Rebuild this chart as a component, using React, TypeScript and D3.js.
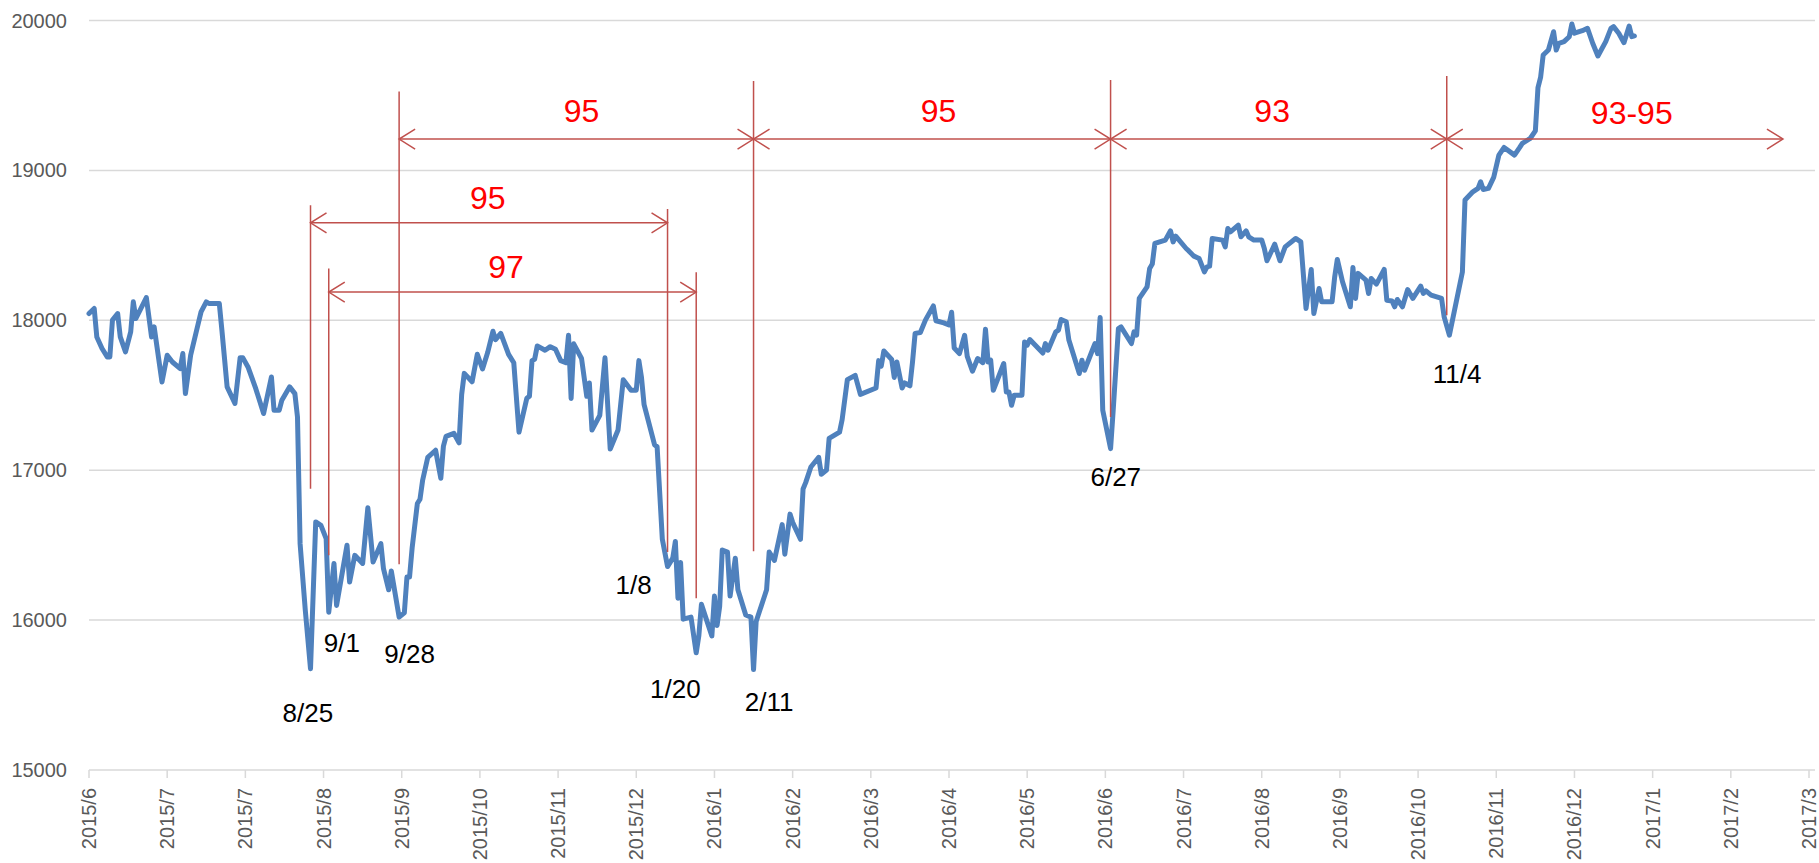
import React from 'react'
import * as d3 from 'd3'

// daily closes
const dates = [
  '2015-06-01','2015-06-03','2015-06-04','2015-06-06','2015-06-08','2015-06-09','2015-06-10','2015-06-12','2015-06-13','2015-06-15',
  '2015-06-17','2015-06-18','2015-06-19','2015-06-23','2015-06-25','2015-06-26','2015-06-29','2015-07-01','2015-07-03','2015-07-06',
  '2015-07-07','2015-07-08','2015-07-10','2015-07-12','2015-07-14','2015-07-16','2015-07-17','2015-07-21','2015-07-22','2015-07-23',
  '2015-07-24','2015-07-27','2015-07-29','2015-07-30','2015-08-01','2015-08-04','2015-08-07','2015-08-10','2015-08-11','2015-08-13',
  '2015-08-14','2015-08-17','2015-08-19','2015-08-20','2015-08-21','2015-08-23','2015-08-25','2015-08-27','2015-08-29','2015-08-31',
  '2015-09-01','2015-09-03','2015-09-04','2015-09-08','2015-09-09','2015-09-11','2015-09-14','2015-09-16','2015-09-18','2015-09-21',
  '2015-09-22','2015-09-24','2015-09-25','2015-09-28','2015-09-30','2015-10-01','2015-10-02','2015-10-03','2015-10-05','2015-10-06',
  '2015-10-07','2015-10-09','2015-10-12','2015-10-14','2015-10-15','2015-10-16','2015-10-19','2015-10-21','2015-10-22','2015-10-23',
  '2015-10-26','2015-10-28','2015-10-30','2015-11-01','2015-11-03','2015-11-04','2015-11-06','2015-11-09','2015-11-11','2015-11-13',
  '2015-11-16','2015-11-17','2015-11-18','2015-11-19','2015-11-20','2015-11-23','2015-11-25','2015-11-27','2015-11-29','2015-12-01',
  '2015-12-02','2015-12-03','2015-12-04','2015-12-07','2015-12-09','2015-12-10','2015-12-11','2015-12-14','2015-12-16','2015-12-18',
  '2015-12-21','2015-12-23','2015-12-26','2015-12-28','2015-12-29','2015-12-30','2015-12-31','2016-01-04','2016-01-05','2016-01-06',
  '2016-01-07','2016-01-09','2016-01-11','2016-01-12','2016-01-13','2016-01-14','2016-01-15','2016-01-18','2016-01-20','2016-01-21',
  '2016-01-22','2016-01-26','2016-01-27','2016-01-28','2016-01-29','2016-01-30','2016-02-01','2016-02-02','2016-02-04','2016-02-05',
  '2016-02-08','2016-02-10','2016-02-11','2016-02-12','2016-02-16','2016-02-17','2016-02-19','2016-02-22','2016-02-23','2016-02-25',
  '2016-02-26','2016-02-29','2016-03-01','2016-03-02','2016-03-04','2016-03-07','2016-03-08','2016-03-10','2016-03-11','2016-03-15',
  '2016-03-16','2016-03-18','2016-03-21','2016-03-23','2016-03-29','2016-03-30','2016-03-31','2016-04-01','2016-04-04','2016-04-05',
  '2016-04-06','2016-04-08','2016-04-09','2016-04-11','2016-04-12','2016-04-13','2016-04-15','2016-04-17','2016-04-20','2016-04-21',
  '2016-04-24','2016-04-26','2016-04-27','2016-04-28','2016-04-30','2016-05-02','2016-05-03','2016-05-05','2016-05-07','2016-05-09',
  '2016-05-10','2016-05-11','2016-05-12','2016-05-13','2016-05-17','2016-05-18','2016-05-19','2016-05-20','2016-05-21','2016-05-24',
  '2016-05-25','2016-05-26','2016-05-27','2016-06-01','2016-06-02','2016-06-03','2016-06-06','2016-06-07','2016-06-08','2016-06-10',
  '2016-06-11','2016-06-15','2016-06-16','2016-06-17','2016-06-20','2016-06-21','2016-06-22','2016-06-23','2016-06-24','2016-06-27',
  '2016-06-28','2016-06-30','2016-07-01','2016-07-05','2016-07-06','2016-07-07','2016-07-08','2016-07-11','2016-07-12','2016-07-13',
  '2016-07-14','2016-07-18','2016-07-20','2016-07-21','2016-07-22','2016-07-26','2016-07-27','2016-07-29','2016-07-31','2016-08-02',
  '2016-08-03','2016-08-04','2016-08-05','2016-08-09','2016-08-10','2016-08-11','2016-08-12','2016-08-15','2016-08-16','2016-08-18',
  '2016-08-19','2016-08-21','2016-08-24','2016-08-25','2016-08-26','2016-08-29','2016-08-31','2016-09-02','2016-09-06','2016-09-08',
  '2016-09-10','2016-09-12','2016-09-13','2016-09-15','2016-09-16','2016-09-20','2016-09-21','2016-09-22','2016-09-24','2016-09-27',
  '2016-09-28','2016-09-29','2016-09-30','2016-10-03','2016-10-04','2016-10-05','2016-10-07','2016-10-10','2016-10-11','2016-10-13',
  '2016-10-14','2016-10-15','2016-10-17','2016-10-19','2016-10-21','2016-10-24','2016-10-25','2016-10-26','2016-10-28','2016-11-01',
  '2016-11-02','2016-11-04','2016-11-09','2016-11-10','2016-11-13','2016-11-15','2016-11-16','2016-11-17','2016-11-19','2016-11-21',
  '2016-11-23','2016-11-25','2016-11-29','2016-12-01','2016-12-02','2016-12-05','2016-12-07','2016-12-08','2016-12-09','2016-12-10',
  '2016-12-12','2016-12-14','2016-12-15','2016-12-16','2016-12-18','2016-12-20','2016-12-21','2016-12-22','2016-12-25','2016-12-27',
  '2016-12-29','2016-12-31','2017-01-03','2017-01-05','2017-01-06','2017-01-08','2017-01-10','2017-01-12','2017-01-13','2017-01-14',
]
const closes = [
  18045,18079,17889,17812,17756,17756,18001,18045,17889,17789,
  17923,18123,18012,18152,17889,17956,17589,17767,17722,17678,
  17778,17511,17767,17912,18056,18123,18112,18112,17934,17745,
  17556,17445,17751,17751,17689,17544,17378,17622,17400,17400,
  17467,17556,17511,17355,16510,16065,15676,16655,16632,16543,
  16053,16378,16098,16499,16254,16432,16378,16750,16388,16510,
  16343,16202,16328,16020,16048,16287,16287,16483,16778,16806,
  16931,17086,17133,16946,17161,17226,17246,17183,17506,17646,
  17590,17773,17675,17787,17927,17871,17913,17773,17717,17254,
  17480,17493,17731,17740,17829,17800,17824,17807,17731,17717,
  17900,17479,17843,17745,17493,17582,17268,17366,17750,17141,
  17268,17604,17534,17534,17731,17619,17437,17170,17156,16847,
  16539,16357,16413,16525,16146,16385,16006,16020,15782,15894,
  16105,15894,16160,15964,16091,16468,16454,16160,16413,16202,
  16034,16020,15670,15991,16202,16454,16398,16637,16440,16707,
  16652,16539,16875,16917,17021,17086,16973,17001,17212,17254,
  17338,17604,17633,17506,17548,17731,17694,17795,17739,17619,
  17722,17548,17582,17563,17722,17913,17919,18003,18096,17997,
  17983,17969,18054,17815,17778,17900,17759,17660,17745,17717,
  17940,17722,17734,17533,17712,17522,17522,17433,17500,17500,
  17856,17834,17872,17782,17845,17800,17923,17934,18005,17990,
  17868,17645,17734,17667,17800,17845,17778,18019,17400,17144,
  17400,17945,17956,17845,17923,17901,18146,18223,18346,18375,
  18513,18535,18597,18523,18561,18479,18463,18428,18412,18323,
  18356,18361,18546,18535,18490,18613,18590,18635,18557,18597,
  18557,18535,18535,18479,18397,18508,18397,18490,18546,18523,
  18079,18339,18045,18212,18123,18123,18290,18406,18257,18090,
  18353,18146,18313,18268,18179,18279,18241,18339,18134,18129,
  18090,18139,18090,18205,18146,18228,18179,18196,18168,18146,
  18023,17901,18323,18802,18857,18880,18924,18873,18880,18953,
  19102,19153,19102,19153,19180,19213,19264,19552,19620,19770,
  19803,19925,19803,19848,19859,19892,19977,19915,19932,19948,
  19848,19763,19859,19948,19959,19915,19852,19963,19892,19897,
]

const yTicks = [15000, 16000, 17000, 18000, 19000, 20000]
const axisStart = '2015-06-01'
const axisEnd = '2017-03-22'
const tickStepDays = 30
const tickCount = 23

// red vertical markers at the lows
const markerDates = ['2015-08-25', '2015-09-01', '2015-09-28', '2016-01-09', '2016-01-20', '2016-02-11', '2016-06-27', '2016-11-03']
const markerTops = [18768, 18346, 19526, 18742, 18321, 19596, 19603, 19630]
const markerBottoms = [16877, 16432, 16372, 16455, 16145, 16460, 17355, 18034]

// red span arrows with their day counts
const spanStarts = ['2015-09-28', '2016-02-11', '2016-06-27', '2016-11-03', '2015-08-25', '2015-09-01']
const spanEnds = ['2016-02-11', '2016-06-27', '2016-11-03', '2017-03-12', '2016-01-09', '2016-01-20']
const spanLevels = [19209, 19209, 19209, 19209, 18650, 18188]
const spanLabels = ['95', '95', '93', '93-95', '95', '97']
const spanLabelDates = ['2015-12-07', '2016-04-22', '2016-08-28', '2017-01-13', '2015-11-01', '2015-11-08']
const spanLabelLevels = [19322, 19322, 19322, 19309, 18742, 18281]

// black date labels under the lows
const lowLabels = ['8/25', '9/1', '9/28', '1/8', '1/20', '2/11', '6/27', '11/4']
const lowLabelDates = ['2015-08-24', '2015-09-06', '2015-10-02', '2015-12-27', '2016-01-12', '2016-02-17', '2016-06-29', '2016-11-07']
const lowLabelLevels = [15317, 15784, 15711, 16172, 15477, 15391, 16893, 17580]

const W = 1819
const H = 863
const left = 89
const right = 1809
const top = 20.5
const bottom = 770

const parse = d3.utcParse('%Y-%m-%d')
const fmt = d3.utcFormat('%Y/%-m')
const red = '#C0504D'
const font = "'Liberation Sans', Arial, sans-serif"

export default function App() {
  const start = parse(axisStart)!
  const x = d3.scaleUtc().domain([start, parse(axisEnd)!]).range([left, right])
  const y = d3.scaleLinear().domain([15000, 20000]).range([bottom, top])

  const pts = dates.map((d, i) => [x(parse(d)!), y(closes[i])] as [number, number])
  const path = d3.line().curve(d3.curveLinear)(pts) || ''

  const ticks = d3.range(tickCount).map(i => d3.utcDay.offset(start, i * tickStepDays))

  const head = (tx: number, ty: number, dir: number) =>
    `M${tx + dir * 16},${ty - 10}L${tx},${ty}L${tx + dir * 16},${ty + 10}`

  return (
    <svg width={W} height={H} style={{ position: 'absolute', left: 0, top: 0, background: '#fff' }}>
      {yTicks.slice(1).map(t => (
        <line key={t} x1={left} x2={1815} y1={y(t)} y2={y(t)} stroke="#D9D9D9" strokeWidth={1.5} />
      ))}
      <line x1={left} x2={1815} y1={bottom} y2={bottom} stroke="#D9D9D9" strokeWidth={1.5} />
      {ticks.map((t, i) => (
        <line key={i} x1={x(t)} x2={x(t)} y1={bottom} y2={bottom + 8} stroke="#D9D9D9" strokeWidth={1.5} />
      ))}
      {yTicks.map(t => (
        <text key={t} x={67} y={y(t)} dy="0.35em" textAnchor="end" fontFamily={font} fontSize={20} fill="#595959">
          {t}
        </text>
      ))}
      {ticks.map((t, i) => (
        <text
          key={i}
          transform={`translate(${x(t)},${bottom + 18}) rotate(-90)`}
          dy="0.35em"
          textAnchor="end"
          fontFamily={font}
          fontSize={20}
          fill="#595959"
        >
          {fmt(t)}
        </text>
      ))}

      <path d={path} fill="none" stroke="#4F81BD" strokeWidth={5} strokeLinejoin="round" strokeLinecap="round" />

      {markerDates.map((d, i) => {
        const mx = x(parse(d)!)
        return <line key={d} x1={mx} x2={mx} y1={y(markerTops[i])} y2={y(markerBottoms[i])} stroke={red} strokeWidth={1.5} />
      })}
      {spanStarts.map((s, i) => {
        const x1 = x(parse(s)!)
        const x2 = x(parse(spanEnds[i])!)
        const sy = y(spanLevels[i])
        return (
          <g key={i} fill="none" stroke={red} strokeWidth={1.5}>
            <line x1={x1} x2={x2} y1={sy} y2={sy} />
            <path d={head(x1, sy, 1)} />
            <path d={head(x2, sy, -1)} />
          </g>
        )
      })}
      {spanLabels.map((l, i) => (
        <text key={i} x={x(parse(spanLabelDates[i])!)} y={y(spanLabelLevels[i])} textAnchor="middle" fontFamily={font} fontSize={32} fill="#FF0000">
          {l}
        </text>
      ))}
      {lowLabels.map((l, i) => (
        <text key={i} x={x(parse(lowLabelDates[i])!)} y={y(lowLabelLevels[i])} textAnchor="middle" fontFamily={font} fontSize={26} fill="#000">
          {l}
        </text>
      ))}
    </svg>
  )
}
